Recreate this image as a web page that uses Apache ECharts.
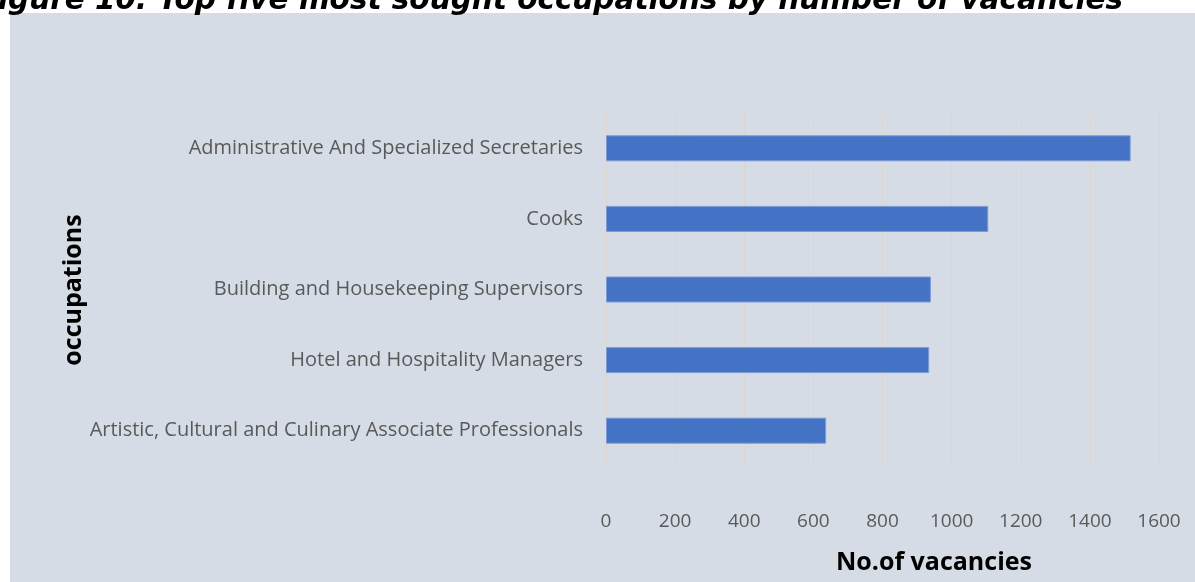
<!DOCTYPE html>
<html>
<head>
<meta charset="utf-8">
<script src="https://cdn.jsdelivr.net/npm/echarts@6/dist/echarts.min.js"></script>
<style>
  html, body { margin: 0; padding: 0; background: #fff; }
  #chart { width: 1195px; height: 582px; }
</style>
</head>
<body>
<div id="chart"></div>
<script>
// occupations, top to bottom as in the figure
const occupations = [
    'Administrative And Specialized Secretaries',
    'Cooks',
    'Building and Housekeeping Supervisors',
    'Hotel and Hospitality Managers',
    'Artistic, Cultural and Culinary Associate Professionals'
];
const vacancies = [1518, 1106, 940, 935, 637];
const xTicks = [0, 200, 400, 600, 800, 1000, 1200, 1400, 1600];

const titleText = 'igure 10: Top five most sought occupations by number of vacancies';
const xName = 'No.of vacancies';
const yName = 'occupations';

const chart = echarts.init(document.getElementById('chart'), null, { renderer: 'canvas' });

const option = {
    backgroundColor: '#ffffff',
    animation: false,
    graphic: [
        {
            type: 'rect',
            z: -10,
            shape: { x: 10, y: 13, width: 1185, height: 569 },
            style: { fill: '#D6DCE5' }
        },
        {
            // title is clipped at the top of the picture
            type: 'text',
            x: -2,
            y: -14,
            z: 10,
            style: {
                text: titleText,
                font: 'italic bold 29.5px "DejaVu Sans"',
                fill: '#000'
            }
        },
        {
            type: 'text',
            x: 934,
            y: 563,
            style: {
                text: xName,
                font: 'bold 25px "Open Sans"',
                fill: '#000',
                align: 'center',
                verticalAlign: 'middle'
            }
        },
        {
            type: 'text',
            x: 74,
            y: 290,
            rotation: Math.PI / 2,
            style: {
                text: yName,
                font: 'bold 25px "Open Sans"',
                fill: '#000',
                align: 'center',
                verticalAlign: 'middle'
            }
        }
    ],
    grid: {
        left: 606,
        right: 36,
        top: 113,
        bottom: 116,
        containLabel: false
    },
    xAxis: {
        type: 'value',
        min: xTicks[0],
        max: xTicks[xTicks.length - 1],
        interval: xTicks[1] - xTicks[0],
        axisLine: { show: false },
        axisTick: { show: false },
        splitLine: { show: true, lineStyle: { color: '#DCD6CF', width: 1.2 } },
        axisLabel: {
            margin: 46,
            color: '#595959',
            fontFamily: 'Open Sans',
            fontSize: 19,
            formatter: (v) => String(v)
        }
    },
    yAxis: {
        type: 'category',
        inverse: true,
        data: occupations,
        axisLine: { show: false },
        axisTick: { show: false },
        splitLine: { show: false },
        axisLabel: {
            margin: 23,
            color: '#595959',
            fontFamily: 'Open Sans',
            fontSize: 20
        }
    },
    series: [
        {
            type: 'bar',
            data: vacancies,
            barWidth: 26,
            itemStyle: {
                color: '#4472C4',
                borderColor: '#7C9BD6',
                borderWidth: 1
            }
        }
    ]
};

chart.setOption(option);
</script>
</body>
</html>
